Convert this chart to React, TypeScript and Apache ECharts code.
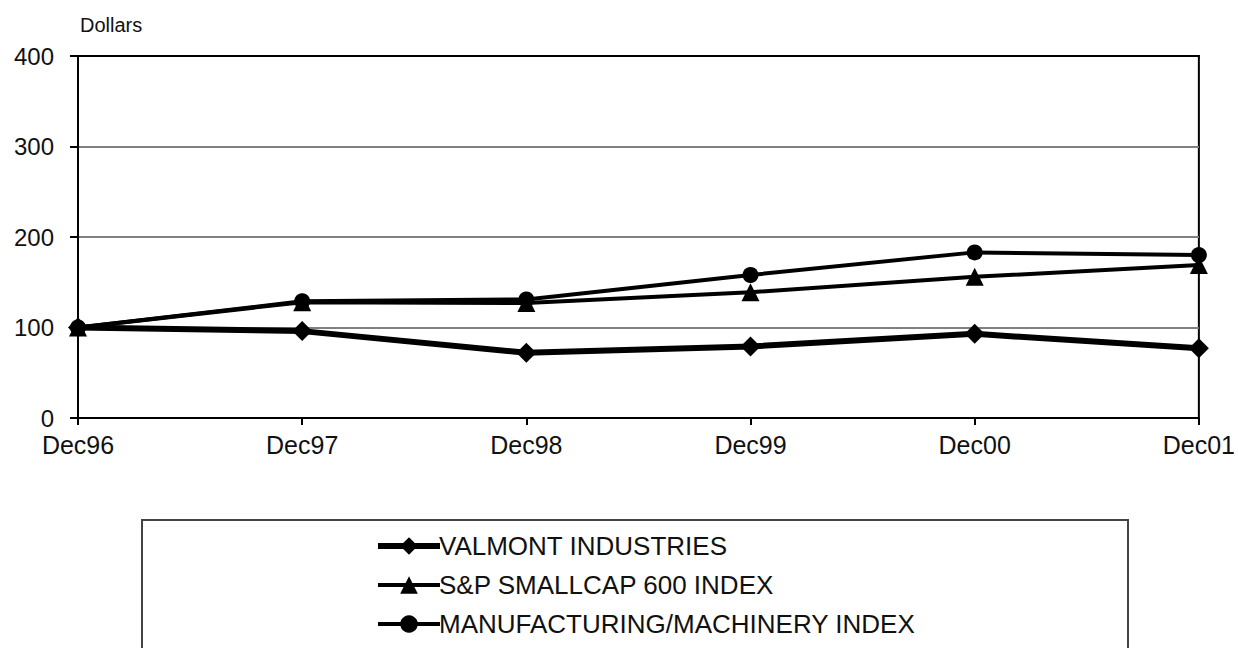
import React, { useEffect, useRef } from "react";
import * as echarts from "echarts";

const categories = ["Dec96", "Dec97", "Dec98", "Dec99", "Dec00", "Dec01"];
const valmont = [100, 96, 72, 79, 93, 77];
const smallcap = [100, 128, 127, 139, 156, 169];
const machinery = [100, 129, 131, 158, 183, 180];
const yTicks = [0, 100, 200, 300, 400];
const seriesNames = [
  "VALMONT INDUSTRIES",
  "S&P SMALLCAP 600 INDEX",
  "MANUFACTURING/MACHINERY INDEX",
];

const FONT = "Liberation Sans, Arial, sans-serif";

export default function App() {
  const ref = useRef<HTMLDivElement>(null);
  useEffect(() => {
    if (!ref.current) return;
    const chart = echarts.init(ref.current, undefined, { renderer: "svg" });
    const mk = (name: string, data: number[], symbol: string, size: number, width: number) => ({
      name,
      type: "line",
      data,
      symbol,
      symbolSize: size,
      lineStyle: { color: "#000", width },
      itemStyle: { color: "#000" },
      z: 3,
    });
    chart.setOption({
      animation: false,
      backgroundColor: "#fff",
      grid: {
        left: 78,
        right: 38,
        top: 56,
        bottom: 230,
        show: true,
        borderColor: "#000",
        borderWidth: 2,
      },
      xAxis: [
        {
          type: "category",
          data: categories,
          boundaryGap: false,
          axisLine: { lineStyle: { color: "#000", width: 2 } },
          axisTick: { show: true, length: 7, lineStyle: { color: "#000", width: 2 } },
          axisLabel: { color: "#111", fontSize: 25, fontFamily: FONT, margin: 14 },
        },
        {
          type: "category",
          data: categories,
          position: "top",
          boundaryGap: false,
          axisLine: { show: true, lineStyle: { color: "#000", width: 2 } },
          axisTick: { show: false },
          axisLabel: { show: false },
        },
      ],
      yAxis: {
        type: "value",
        min: yTicks[0],
        max: yTicks[yTicks.length - 1],
        interval: 100,
        axisLine: { show: true, lineStyle: { color: "#000", width: 2 } },
        axisTick: { show: true, length: 8, lineStyle: { color: "#000", width: 2 } },
        axisLabel: { color: "#111", fontSize: 24, fontFamily: FONT, margin: 24 },
        splitLine: { show: true, lineStyle: { color: "#808080", width: 2 } },
      },
      legend: {
        orient: "vertical",
        left: 370,
        top: 528,
        itemWidth: 62,
        itemHeight: 22,
        itemGap: 13,
        textStyle: { color: "#111", fontSize: 26, fontFamily: FONT, padding: [0, 0, 0, -6] },
        data: [
          { name: seriesNames[0], lineStyle: { width: 6 } },
          { name: seriesNames[1], lineStyle: { width: 4 } },
          { name: seriesNames[2], lineStyle: { width: 4 } },
        ],
      },
      graphic: [
        {
          type: "text",
          left: 80,
          top: 15,
          style: { text: "Dollars", fontSize: 20, fontFamily: FONT, fill: "#111" },
        },
        {
          type: "rect",
          shape: { x: 142, y: 520, width: 986, height: 160 },
          style: { fill: "none", stroke: "#444", lineWidth: 2 },
          z: -1,
        },
      ],
      series: [
        mk(seriesNames[0], valmont, "diamond", 20, 6),
        mk(seriesNames[1], smallcap, "triangle", 18, 4),
        mk(seriesNames[2], machinery, "circle", 16, 4),
      ],
    });
    return () => chart.dispose();
  }, []);
  return <div ref={ref} style={{ width: 1238, height: 648, position: "absolute", left: 0, top: 0 }} />;
}
